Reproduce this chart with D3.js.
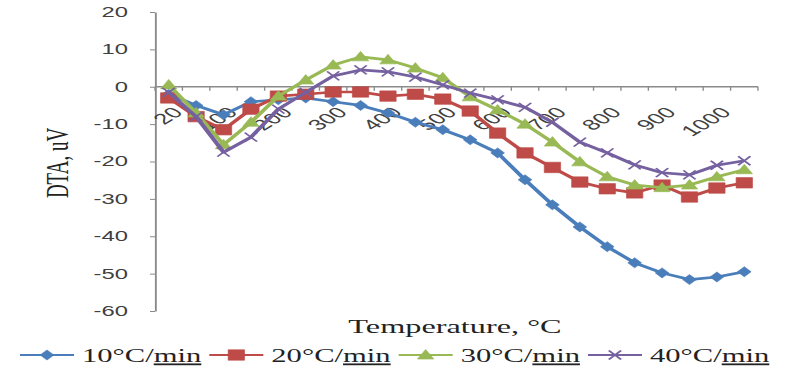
<!DOCTYPE html>
<html>
<head>
<meta charset="utf-8">
<script src="https://cdn.jsdelivr.net/npm/d3@7"></script>
<style>
  body { margin: 0; background: #fff; }
</style>
</head>
<body>
<div id="chart"></div>
<script>
// heating temperatures (categories on the x axis)
const temps = [20, 50, 100, 150, 200, 250, 300, 350, 400, 450, 500, 550,
               600, 650, 700, 750, 800, 850, 900, 950, 1000, 1050];
// only every other category gets a label
const labelTemps = [20, 100, 200, 300, 400, 500, 600, 700, 800, 900, 1000];
const yTicks = [-60, -50, -40, -30, -20, -10, 0, 10, 20];

// DTA signal, uV
const dta10 = [-2, -5, -7.5, -4, -3.5, -3, -4, -5, -7, -9.5, -11.5, -14.2,
               -17.7, -24.9, -31.6, -37.5, -42.8, -47.1, -49.8, -51.6, -50.9, -49.5];
const dta20 = [-3, -8, -11.5, -6, -2.5, -2, -1.4, -1.4, -2.5, -2, -3.3, -6.5,
               -12.4, -17.7, -21.6, -25.5, -27.3, -28.4, -26.3, -29.5, -27.1, -25.7];
const dta30 = [0.5, -7, -15.5, -9.5, -2.5, 1.8, 5.8, 8.0, 7.2, 5, 2.4, -2.7,
               -6.2, -10, -14.8, -20.1, -24.1, -26.3, -27, -26.3, -24.1, -22.2];
const dta40 = [-1.5, -8, -17.5, -13.5, -6, -1.5, 2.9, 4.5, 4, 2.6, 0.5, -1.7,
               -3.5, -5.5, -9.5, -14.8, -17.7, -20.9, -23, -23.6, -21, -19.8];
const seriesNames = ["10°C/", "20°C/", "30°C/", "40°C/"];

const series = [
  {name: seriesNames[0], values: dta10, color: "#4A7EBB", marker: "diamond"},
  {name: seriesNames[1], values: dta20, color: "#BE4B48", marker: "square"},
  {name: seriesNames[2], values: dta30, color: "#98B954", marker: "triangle"},
  {name: seriesNames[3], values: dta40, color: "#7560A0", marker: "cross"}
];

// the original picture is stretched sideways, so draw in a narrow space and stretch it
const sx = 1.7;
const W = 792, H = 375;
const svg = d3.select("#chart")
  .append("svg")
    .attr("width", W)
    .attr("height", H)
    .attr("viewBox", `0 0 ${W / sx} ${H}`)
    .attr("preserveAspectRatio", "none");

const x = d3.scaleBand()
  .domain(temps)
  .range([155 / sx, 758 / sx]);
const y = d3.scaleLinear()
  .domain([-60, 20])
  .range([311, 12]);

const cx = t => x(t) + x.bandwidth() / 2;

// Y axis
const yAxis = svg.append("g")
  .attr("transform", `translate(${155 / sx},0)`)
  .call(d3.axisLeft(y).tickValues(yTicks).tickFormat(d => String(d))
    .tickSize(5 / sx).tickSizeOuter(0).tickPadding(22 / sx));
yAxis.select(".domain").attr("stroke", "#8a8a8a").attr("stroke-width", 1.1);
yAxis.selectAll(".tick line").attr("stroke", "#8a8a8a").attr("stroke-width", 1);
yAxis.selectAll("text")
  .attr("font-family", "Liberation Sans, Arial, sans-serif")
  .attr("font-size", 14)
  .attr("fill", "#404040");

// X axis at zero
const xAxis = svg.append("g");
xAxis.append("line")
  .attr("x1", x.range()[0]).attr("x2", x.range()[1])
  .attr("y1", y(0)).attr("y2", y(0))
  .attr("stroke", "#8a8a8a").attr("stroke-width", 1.6);
xAxis.selectAll("tickline")
  .data(d3.range(temps.length + 1))
  .enter()
  .append("line")
    .attr("x1", i => x.range()[0] + i * x.step())
    .attr("x2", i => x.range()[0] + i * x.step())
    .attr("y1", y(0))
    .attr("y2", y(0) + 4)
    .attr("stroke", "#8a8a8a").attr("stroke-width", 0.8);
xAxis.selectAll("ticklabel")
  .data(labelTemps)
  .enter()
  .append("text")
    .attr("transform", d => `translate(${cx(d) + 9 / sx},${y(0) + 23}) rotate(-45)`)
    .attr("dy", "0.35em")
    .attr("text-anchor", "end")
    .attr("font-family", "Liberation Sans, Arial, sans-serif")
    .attr("font-size", 15)
    .attr("fill", "#404040")
    .text(d => d);

// markers
function markerPath(type) {
  if (type === "diamond") return "M0,-5L4,0L0,5L-4,0Z";
  if (type === "square") return "M-4.8,-5.2H4.8V5.2H-4.8Z";
  if (type === "triangle") return "M0,-5.5L4.8,4L-4.8,4Z";
  return "M-3.6,-4.5L3.6,4.5M-3.6,4.5L3.6,-4.5";
}

const line = d3.line()
  .x((d, i) => cx(temps[i]))
  .y(d => y(d));

series.forEach(function(s) {
  svg.append("path")
    .datum(s.values)
    .attr("d", line)
    .attr("fill", "none")
    .attr("stroke", s.color)
    .attr("stroke-width", 2.7)
    .attr("stroke-linejoin", "round");

  svg.selectAll("mark")
    .data(s.values)
    .enter()
    .append("path")
      .attr("transform", (d, i) => `translate(${cx(temps[i])},${y(d)})`)
      .attr("d", markerPath(s.marker))
      .attr("fill", s.marker === "cross" ? "none" : s.color)
      .attr("stroke", s.color)
      .attr("stroke-width", s.marker === "cross" ? 1.3 : 0.5);
});

// axis titles
svg.append("text")
  .attr("transform", `translate(${68 / sx},163) rotate(-90)`)
  .attr("text-anchor", "middle")
  .attr("font-family", "Liberation Serif, Times New Roman, serif")
  .attr("font-size", 19)
  .attr("fill", "#222")
  .text("DTA, uV");

svg.append("text")
  .attr("x", 455 / sx)
  .attr("y", 333)
  .attr("text-anchor", "middle")
  .attr("font-family", "Liberation Serif, Times New Roman, serif")
  .attr("font-size", 19)
  .attr("fill", "#222")
  .text("Temperature, °C");

// legend
let lx = 20 / sx;
series.forEach(function(s) {
  const g = svg.append("g");
  g.append("line")
    .attr("x1", lx).attr("x2", lx + 54 / sx)
    .attr("y1", 355).attr("y2", 355)
    .attr("stroke", s.color).attr("stroke-width", 2);
  g.append("path")
    .attr("transform", `translate(${lx + 27 / sx},355)`)
    .attr("d", markerPath(s.marker))
    .attr("fill", s.marker === "cross" ? "none" : s.color)
    .attr("stroke", s.color)
    .attr("stroke-width", s.marker === "cross" ? 1.3 : 0.5);
  const t = g.append("text")
    .attr("x", lx + 62 / sx)
    .attr("y", 362)
    .attr("font-family", "Liberation Serif, Times New Roman, serif")
    .attr("font-size", 18)
    .attr("fill", "#222");
  t.append("tspan").text(s.name);
  t.append("tspan").style("text-decoration", "underline").text("min");
  lx = lx + 62 / sx + t.node().getComputedTextLength() + 8 / sx;
});
</script>
</body>
</html>
